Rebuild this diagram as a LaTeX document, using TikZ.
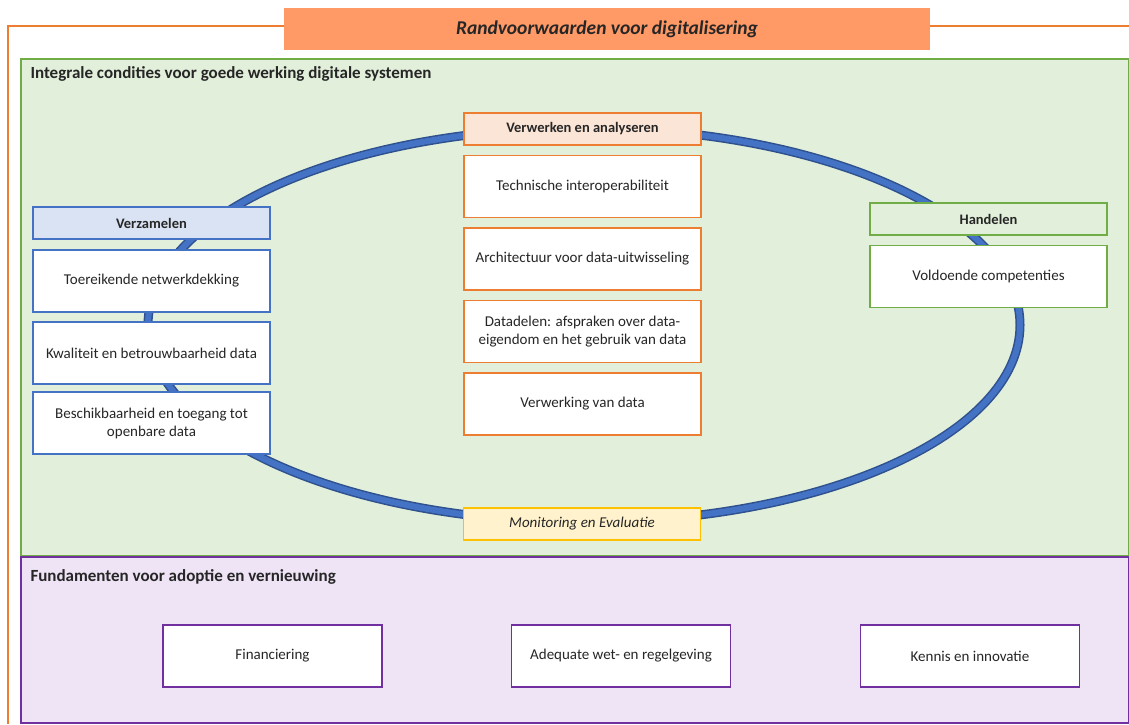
\documentclass[tikz,border=0pt]{standalone}
\usepackage{fontspec}
\setmainfont{Carlito}
\usetikzlibrary{positioning}

\definecolor{kaderoranje}{RGB}{237,125,49}
\definecolor{titeloranje}{RGB}{255,153,102}
\definecolor{groenrand}{RGB}{112,173,71}
\definecolor{groenvlak}{RGB}{226,239,218}
\definecolor{paarsrand}{RGB}{112,48,160}
\definecolor{paarsvlak}{RGB}{239,227,246}
\definecolor{blauwrand}{RGB}{68,114,196}
\definecolor{blauwvlak}{RGB}{218,227,243}
\definecolor{blauwdonker}{RGB}{47,82,143}
\definecolor{perzik}{RGB}{251,229,214}
\definecolor{geelrand}{RGB}{255,192,0}
\definecolor{geelvlak}{RGB}{255,242,204}

\begin{document}
\begin{tikzpicture}[x=1pt,y=-1pt,
    every node/.style={font=\fontsize{15}{18}\selectfont, text=black!85},
    kop/.style={draw,line width=1.5pt,minimum width=237pt,minimum height=32pt,font=\fontsize{14.5}{17}\selectfont\bfseries},
    blok/.style={draw,fill=white,line width=1.5pt,minimum width=237pt,minimum height=62pt,align=center},
    sectie/.style={anchor=west,font=\fontsize{17}{20}\selectfont\bfseries}]
                \useasboundingbox (0,0) rectangle (1129,724);
                \draw[kaderoranje,line width=1.5pt] (1129,26) -- (8,26) -- (8,724);
                \node[fill=titeloranje,minimum width=646pt,minimum height=42pt,font=\fontsize{19.5}{22}\selectfont\bfseries\itshape] (titel) at (607,29) {Randvoorwaarden voor digitalisering};

                % integrale condities
                \draw[groenrand,fill=groenvlak,line width=1.5pt] (21,59) rectangle (1129,556);
                \node[sectie] (integraal) at (27,74) {Integrale condities voor goede werking digitale systemen};
                \draw[blauwdonker,line width=9pt] (584,325) ellipse [x radius=436pt,y radius=197pt];
                \draw[blauwrand,line width=6pt] (584,325) ellipse [x radius=436pt,y radius=197pt];

                \node[kop,draw=blauwrand,fill=blauwvlak] (verzamelen) at (151.5,223) {Verzamelen};
                \node[blok,draw=blauwrand,below=9.5pt of verzamelen] (netwerk) {Toereikende netwerkdekking};
                \node[blok,draw=blauwrand,below=8.5pt of netwerk] (kwaliteit) {Kwaliteit en betrouwbaarheid data};
                \node[blok,draw=blauwrand,below=6.5pt of kwaliteit] (open) {Beschikbaarheid en toegang tot\\openbare data};

                \node[kop,draw=kaderoranje,fill=perzik] (verwerken) at (582.5,129) {Verwerken en analyseren};
                \node[blok,draw=kaderoranje,below=9pt of verwerken] (interop) {Technische interoperabiliteit};
                \node[blok,draw=kaderoranje,below=9pt of interop] (architectuur) {Architectuur voor data-uitwisseling};
                \node[blok,draw=kaderoranje,below=9pt of architectuur] (datadelen) {Datadelen: afspraken over data-\\eigendom en het gebruik van data};
                \node[blok,draw=kaderoranje,below=9pt of datadelen] (verwerking) {Verwerking van data};

                \node[kop,draw=groenrand,fill=groenvlak] (handelen) at (988.5,219) {Handelen};
                \node[blok,draw=groenrand,below=9pt of handelen] (competenties) {Voldoende competenties};

                \node[kop,draw=geelrand,fill=geelvlak,font=\fontsize{15}{18}\selectfont\itshape] (monitoring) at (582,524) {Monitoring en Evaluatie};

                % fundamenten
                \draw[paarsrand,fill=paarsvlak,line width=1.5pt] (21,557) rectangle (1129,723);
                \node[sectie] (fundament) at (27,577) {Fundamenten voor adoptie en vernieuwing};
                \foreach \naam/\x/\tekst in {financiering/272.5/Financiering, wetgeving/621/Adequate wet- en regelgeving, kennis/970/Kennis en innovatie}
                    \node[blok,draw=paarsrand,minimum width=219pt] (\naam) at (\x,656) {\tekst};
            \end{tikzpicture}
\end{document}
